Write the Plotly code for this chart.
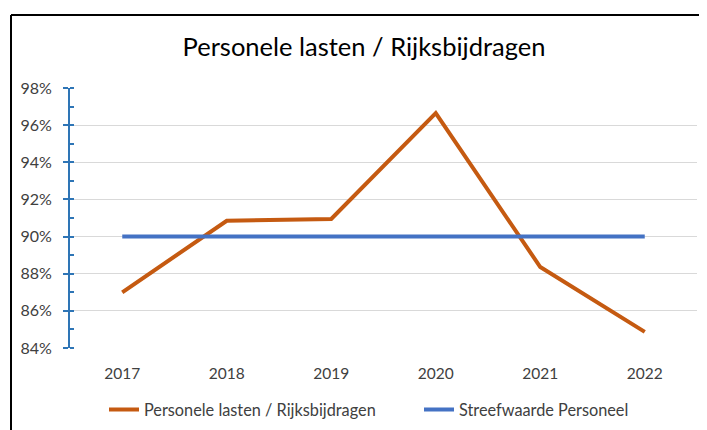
import plotly.graph_objects as go

years = ["2017", "2018", "2019", "2020", "2021", "2022"]
personele = [0.870, 0.9085, 0.9095, 0.9665, 0.8836, 0.8487]
streefwaarde = [0.90, 0.90, 0.90, 0.90, 0.90, 0.90]
yticks = [0.84, 0.86, 0.88, 0.90, 0.92, 0.94, 0.96, 0.98]

FONT = "Lato, Open Sans, sans-serif"

# page body has an 8px margin: work in figure coords = screen px - 8
OFF = 8
W, H = 707 - OFF, 430 - OFF
L, R, T, B = 70 - OFF, 10, 88 - OFF, 82
pw = W - L - R
ph = H - T - B

def px_x(px):
    return (px - OFF - L) / pw

def px_y(py):
    return (H - B - (py - OFF)) / ph

fig = go.Figure()
fig.add_trace(go.Scatter(x=years, y=personele, mode="lines",
                         name="Personele lasten / Rijksbijdragen",
                         line=dict(color="#C55A11", width=4), legend="legend"))
fig.add_trace(go.Scatter(x=years, y=streefwaarde, mode="lines",
                         name="Streefwaarde Personeel",
                         line=dict(color="#4472C4", width=4), legend="legend2"))

legend_style = dict(orientation="h", xanchor="left", y=px_y(410), yanchor="middle",
                    font=dict(family=FONT, size=16.3, color="#404040"),
                    bgcolor="rgba(0,0,0,0)")

fig.update_layout(
    width=W, height=H,
    margin=dict(l=L, r=R, t=T, b=B, autoexpand=False),
    paper_bgcolor="white", plot_bgcolor="white",
    font=dict(family=FONT, color="#404040", size=15),
    title=dict(text="Personele lasten / Rijksbijdragen", xref="container",
               x=(364 - OFF) / W, xanchor="center",
               y=1 - (47 - OFF) / H, yanchor="middle",
               font=dict(family=FONT, size=25.5, color="#000000")),
    legend=dict(x=px_x(104), **legend_style),
    legend2=dict(x=px_x(419), **legend_style),
    showlegend=True,
)
fig.update_xaxes(type="category", range=[-0.5, 5.5], showgrid=False, showline=False,
                 ticks="", ticklabelstandoff=14, automargin=False,
                 tickfont=dict(size=15.5, color="#404040"))
fig.update_yaxes(range=[0.84, 0.98], tickvals=yticks, tickformat=".0%",
                 showgrid=True, gridcolor="#D9D9D9", gridwidth=1.3,
                 showline=True, linecolor="#2E75B6", linewidth=2,
                 ticks="outside", ticklen=5, tickcolor="#2E75B6", tickwidth=2,
                 minor=dict(dtick=0.01, ticks="inside", ticklen=4, tickcolor="#2E75B6",
                            tickwidth=2, showgrid=False),
                 ticklabelstandoff=8, zeroline=False, automargin=False,
                 tickfont=dict(size=16, color="#404040"))

# outer chart border (left and top edges visible in the frame)
fig.add_shape(type="line", xref="paper", yref="paper",
              x0=px_x(11), x1=px_x(11), y0=px_y(15), y1=px_y(431),
              line=dict(color="black", width=2), layer="below")
fig.add_shape(type="line", xref="paper", yref="paper",
              x0=px_x(11), x1=px_x(707), y0=px_y(15), y1=px_y(15),
              line=dict(color="black", width=2), layer="below")

fig.write_html("out.html", config={"displayModeBar": False})
